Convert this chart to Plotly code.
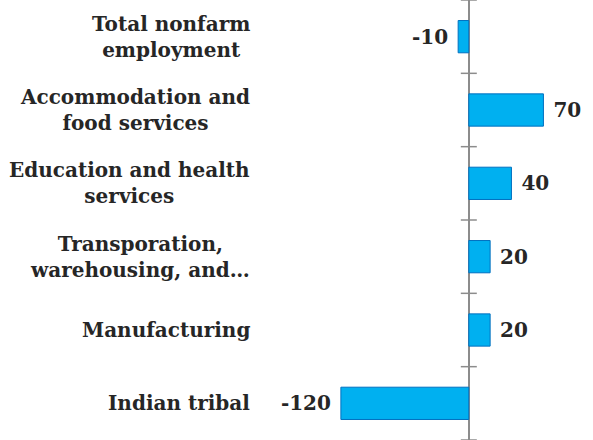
import plotly.graph_objects as go

categories = [
    "Total nonfarm<br>employment",
    "Accommodation and<br>food services",
    "Education and health<br>services",
    "Transporation,<br>warehousing, and…",
    "Manufacturing",
    "Indian tribal",
]
values = [-10, 70, 40, 20, 20, -120]

FONT = "DejaVu Serif"
TXT = "#262626"
FS = 20

labels = [(f"\u00a0{v}" if v >= 0 else f"{v}\u00a0") for v in values]
ypos = list(range(len(categories)))

fig = go.Figure()
fig.add_trace(go.Bar(
    x=values, y=ypos, orientation="h",
    width=0.44,
    marker=dict(color="#00B0F0", line=dict(color="#0070C0", width=1)),
    text=labels, textposition="outside",
    textfont=dict(family=FONT, size=FS, color=TXT, weight="bold"),
    cliponaxis=False,
    hoverinfo="skip",
))

annotations = []
for i, c in enumerate(categories):
    annotations.append(dict(
        x=0, xref="paper", y=i, yref="y",
        text=f"<b>{c}</b>", showarrow=False,
        xanchor="right", yanchor="middle", align="center", xshift=-10,
        font=dict(family=FONT, size=FS, color=TXT),
    ))

shapes = []
for k in range(len(categories) + 1):
    shapes.append(dict(
        type="line", xref="x", yref="y", xsizemode="pixel", xanchor=0,
        x0=-8, x1=8, y0=k - 0.5, y1=k - 0.5,
        line=dict(color="#8C8C8C", width=1.5),
    ))

fig.update_layout(
    width=593, height=440,
    margin=dict(l=262, r=0, t=0, b=0),
    paper_bgcolor="white", plot_bgcolor="white",
    showlegend=False,
    annotations=annotations,
    shapes=shapes,
    xaxis=dict(range=[-194, 116.5], showgrid=False, showticklabels=False,
               zeroline=True, zerolinecolor="#8C8C8C", zerolinewidth=1.5,
               showline=False, ticks=""),
    yaxis=dict(range=[5.5, -0.5], showgrid=False, showticklabels=False,
               zeroline=False, showline=False, ticks=""),
)

fig.write_html("out.html", config={"displayModeBar": False},
               post_script="document.body.style.margin='0';")
